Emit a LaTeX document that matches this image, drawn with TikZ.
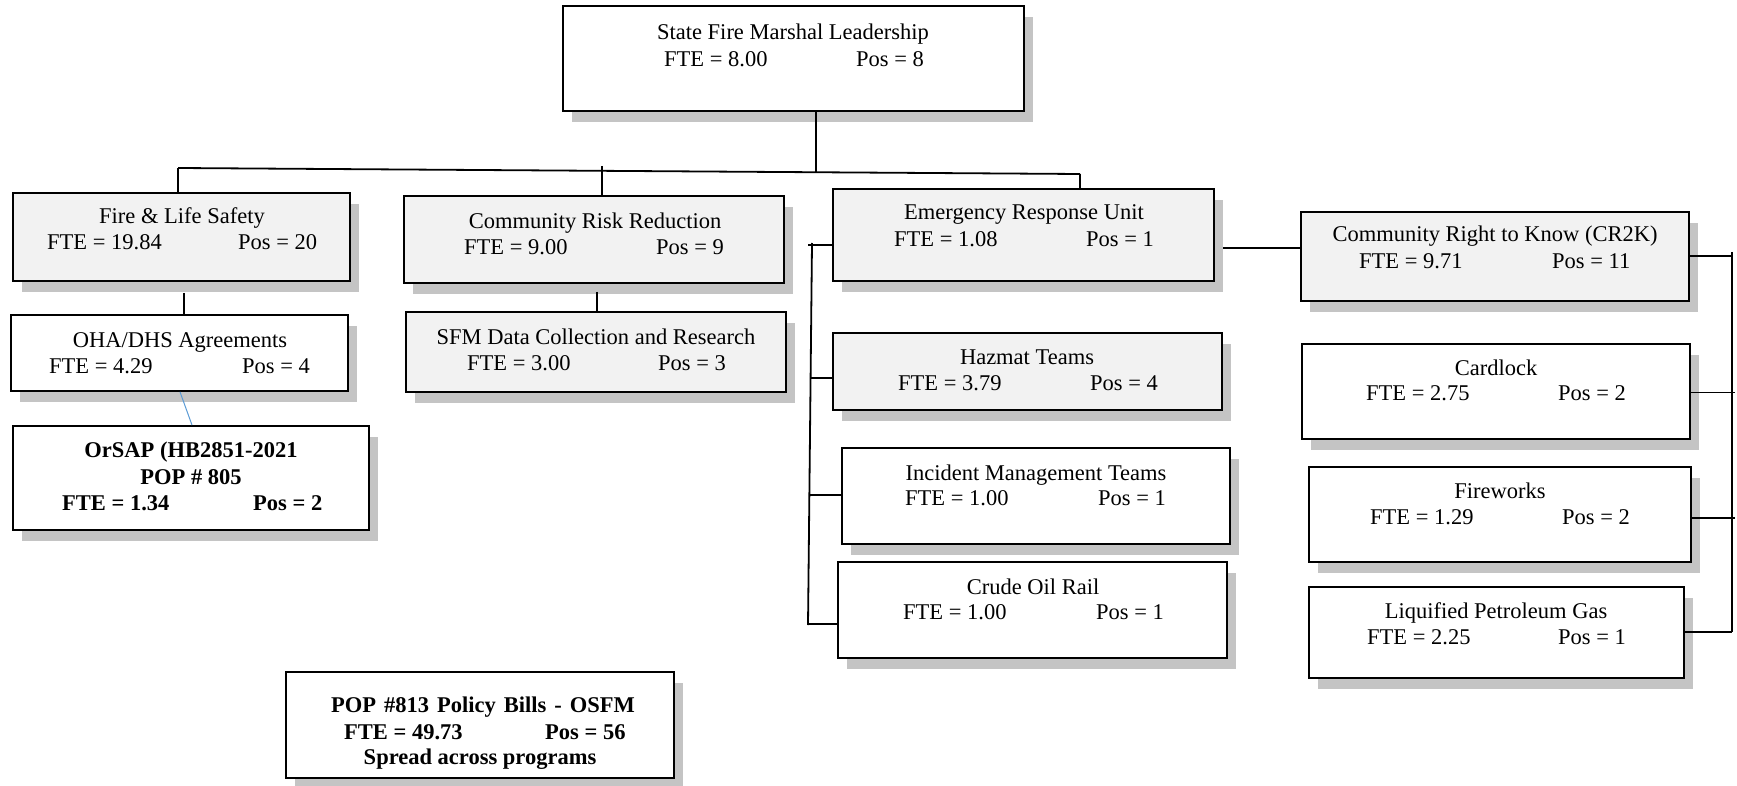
\documentclass[tikz,border=0pt]{standalone}
\usepackage{fontspec}
\setmainfont{Liberation Serif}
\usetikzlibrary{shadows}
\definecolor{boxgray}{HTML}{F2F2F2}
\definecolor{shgray}{HTML}{C4C4C4}
\definecolor{linkblue}{HTML}{5B9BD5}
\newcommand\myfs{\fontsize{22.5pt}{26pt}\selectfont}
\begin{document}
\begin{tikzpicture}[x=1pt,y=-1pt,
  box/.style={draw, line width=1.8pt, inner sep=0pt, fill=white,
    drop shadow={shadow xshift=9pt, shadow yshift=-11pt, fill=shgray, opacity=1}},
  gbox/.style={box, fill=boxgray},
  lbl/.style={inner sep=0pt, font=\myfs},
  blbl/.style={inner sep=0pt, font=\myfs\bfseries},
  conn/.style={line width=1.8pt}]
\useasboundingbox (0,0) rectangle (1737,786);

% boxes
\node[box, minimum width=461pt, minimum height=105pt] (top) at (793.5,58.5) {};
\node[gbox, minimum width=337pt, minimum height=88pt] (fls) at (181.5,237) {};
\node[box, minimum width=337pt, minimum height=76pt] (oha) at (179.5,353) {};
\node[box, minimum width=356pt, minimum height=104pt] (orsap) at (191,478) {};
\node[gbox, minimum width=380pt, minimum height=87pt] (crr) at (594,239.5) {};
\node[gbox, minimum width=380pt, minimum height=80pt] (sfm) at (596,352) {};
\node[gbox, minimum width=381pt, minimum height=92pt] (eru) at (1023.5,235) {};
\node[gbox, minimum width=389pt, minimum height=77pt] (haz) at (1027.5,371.5) {};
\node[box, minimum width=388pt, minimum height=96pt] (imt) at (1036,496) {};
\node[box, minimum width=389pt, minimum height=96pt] (crude) at (1032.5,610) {};
\node[gbox, minimum width=388pt, minimum height=89pt] (cr2k) at (1495,256.5) {};
\node[box, minimum width=388pt, minimum height=95pt] (card) at (1496,391.5) {};
\node[box, minimum width=382pt, minimum height=95pt] (fire) at (1500,514.5) {};
\node[box, minimum width=375pt, minimum height=91pt] (lpg) at (1496.5,632.5) {};
\node[box, minimum width=388pt, minimum height=106pt] (pop) at (480,725) {};

% texts
\node[lbl, anchor=base] (top-t) at (793,40) {State Fire Marshal Leadership};
\node[lbl, anchor=base west] (top-f) at (664,67) {FTE = 8.00};
\node[lbl, anchor=base west] (top-p) at (856,67) {Pos = 8};

\node[lbl, anchor=base] (fls-t) at (182,224) {Fire \& Life Safety};
\node[lbl, anchor=base west] (fls-f) at (47,250) {FTE = 19.84};
\node[lbl, anchor=base west] (fls-p) at (238,250) {Pos = 20};

\node[lbl, anchor=base] (oha-t) at (180,347) {OHA/DHS Agreements};
\node[lbl, anchor=base west] (oha-f) at (49,373) {FTE = 4.29};
\node[lbl, anchor=base west] (oha-p) at (242,373) {Pos = 4};

\node[blbl, anchor=base] (orsap-t) at (191,457) {OrSAP (HB2851-2021};
\node[blbl, anchor=base] (orsap-n) at (191,484) {POP \# 805};
\node[blbl, anchor=base west] (orsap-f) at (62,510) {FTE = 1.34};
\node[blbl, anchor=base west] (orsap-p) at (253,510) {Pos = 2};

\node[lbl, anchor=base] (crr-t) at (595,229) {Community Risk Reduction};
\node[lbl, anchor=base west] (crr-f) at (464,255) {FTE = 9.00};
\node[lbl, anchor=base west] (crr-p) at (656,255) {Pos = 9};

\node[lbl, anchor=base] (sfm-t) at (596,344) {SFM Data Collection and Research};
\node[lbl, anchor=base west] (sfm-f) at (467,370) {FTE = 3.00};
\node[lbl, anchor=base west] (sfm-p) at (658,370) {Pos = 3};

\node[lbl, anchor=base] (eru-t) at (1024,220) {Emergency Response Unit};
\node[lbl, anchor=base west] (eru-f) at (894,247) {FTE = 1.08};
\node[lbl, anchor=base west] (eru-p) at (1086,247) {Pos = 1};

\node[lbl, anchor=base] (haz-t) at (1027,364) {Hazmat Teams};
\node[lbl, anchor=base west] (haz-f) at (898,390) {FTE = 3.79};
\node[lbl, anchor=base west] (haz-p) at (1090,390) {Pos = 4};

\node[lbl, anchor=base] (imt-t) at (1036,480) {Incident Management Teams};
\node[lbl, anchor=base west] (imt-f) at (905,505) {FTE = 1.00};
\node[lbl, anchor=base west] (imt-p) at (1098,505) {Pos = 1};

\node[lbl, anchor=base] (crude-t) at (1033,594) {Crude Oil Rail};
\node[lbl, anchor=base west] (crude-f) at (903,619) {FTE = 1.00};
\node[lbl, anchor=base west] (crude-p) at (1096,619) {Pos = 1};

\node[lbl, anchor=base] (cr2k-t) at (1495,242) {Community Right to Know (CR2K)};
\node[lbl, anchor=base west] (cr2k-f) at (1359,269) {FTE = 9.71};
\node[lbl, anchor=base west] (cr2k-p) at (1552,269) {Pos = 11};

\node[lbl, anchor=base] (card-t) at (1496,375) {Cardlock};
\node[lbl, anchor=base west] (card-f) at (1366,400) {FTE = 2.75};
\node[lbl, anchor=base west] (card-p) at (1558,400) {Pos = 2};

\node[lbl, anchor=base] (fire-t) at (1500,498) {Fireworks};
\node[lbl, anchor=base west] (fire-f) at (1370,524) {FTE = 1.29};
\node[lbl, anchor=base west] (fire-p) at (1562,524) {Pos = 2};

\node[lbl, anchor=base] (lpg-t) at (1496,618) {Liquified Petroleum Gas};
\node[lbl, anchor=base west] (lpg-f) at (1367,644) {FTE = 2.25};
\node[lbl, anchor=base west] (lpg-p) at (1558,644) {Pos = 1};

\node[blbl, anchor=base] (pop-t) at (483,712) {\spaceskip=8pt POP \#813 Policy Bills - OSFM};
\node[blbl, anchor=base west] (pop-f) at (344,739) {FTE = 49.73};
\node[blbl, anchor=base west] (pop-p) at (545,739) {Pos = 56};
\node[blbl, anchor=base] (pop-s) at (480,764) {Spread across programs};

% connector coordinates
\coordinate (busL) at (178,168);
\coordinate (busR) at (1080,174);
\coordinate (busT) at (816,172);
\coordinate (crrT) at (602,166);
\coordinate (flsB) at (184,293);
\coordinate (b1) at (180,391);
\coordinate (b2) at (192,426);
\coordinate (crrB) at (597,292);
\coordinate (eruR) at (1223,248);
\coordinate (lbT) at (812,243);
\coordinate (lbB) at (808,625);
\coordinate (lt1) at (808,245);
\coordinate (lt2) at (811,378);
\coordinate (lt3) at (810,495);
\coordinate (lt4) at (808,624);
\coordinate (rbT) at (1732,252);
\coordinate (rbB) at (1732,632);

% connectors
\draw[conn] (top.south -| busT) -- (busT);
\draw[conn] (busL) -- (busR);
\draw[conn] (busL) -- (fls.north -| busL);
\draw[conn] (crrT) -- (crr.north -| crrT);
\draw[conn] (busR) -- (eru.north -| busR);
\draw[conn] (flsB) -- (oha.north -| flsB);
\draw[linkblue, line width=1pt] (oha.south -| b1) -- (orsap.north -| b2);
\draw[conn] (crrB) -- (sfm.north -| crrB);
\draw[conn] (eruR) -- (cr2k.west |- eruR);
\draw[conn] (lbT) -- (lbB);
\draw[conn] (lt1) -- (lt1 -| eru.west);
\draw[conn] (lt2) -- (lt2 -| haz.west);
\draw[conn] (lt3) -- (lt3 -| imt.west);
\draw[conn] (lt4) -- (lt4 -| crude.west);
\draw[conn] (rbT) -- (rbB);
\draw[conn] (cr2k.east |- 0,256) -- (1732,256);
\draw[conn] (card.east |- 0,392.5) -- (1735,392.5);
\draw[conn] (fire.east |- 0,518) -- (1735,518);
\draw[conn] (lpg.east |- rbB) -- (rbB);
\end{tikzpicture}
\end{document}
